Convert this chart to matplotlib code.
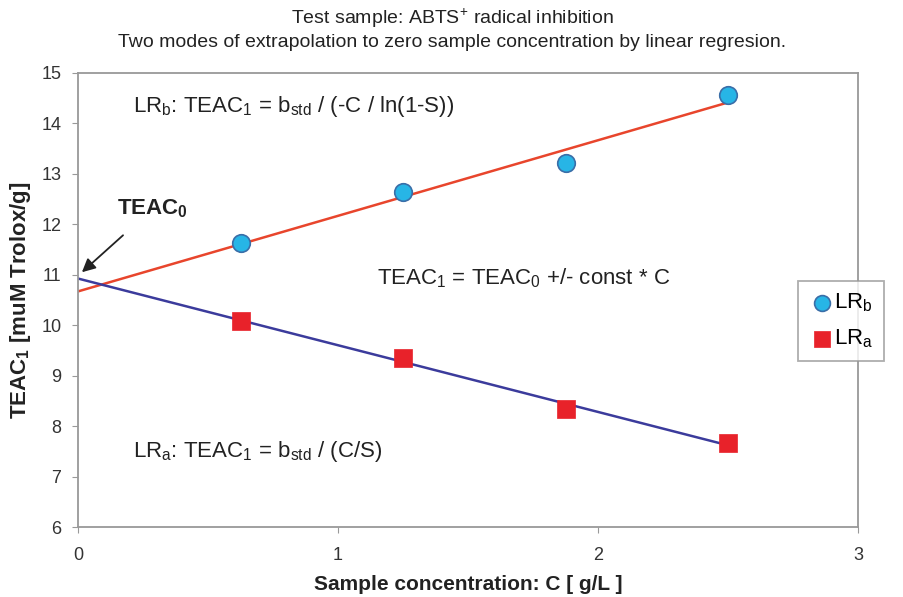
import numpy as np
import matplotlib
matplotlib.use("Agg")
import matplotlib.pyplot as plt

plt.rcParams['font.family'] = ['Liberation Sans', 'DejaVu Sans']
plt.rcParams['mathtext.fontset'] = 'custom'
plt.rcParams['mathtext.rm'] = 'Liberation Sans'
plt.rcParams['mathtext.bf'] = 'Liberation Sans:bold'

# ── data ─────────────────────────────────────────────────────────
conc = [0.625, 1.25, 1.875, 2.5]
teac_lrb = [11.63, 12.64, 13.21, 14.56]
teac_lra = [10.08, 9.35, 8.35, 7.66]

# linear regression, extrapolated to zero concentration
fit_b = np.polyfit(conc, teac_lrb, 1)
fit_a = np.polyfit(conc, teac_lra, 1)
x_fit = np.array([0.0, max(conc)])

fig = plt.figure(figsize=(9.04, 5.97), dpi=100)
ax = fig.add_axes([0.0863, 0.117, 0.863, 0.761])

ax.plot(x_fit, np.polyval(fit_b, x_fit), color='#e8452c', lw=1.8, zorder=2)
ax.plot(x_fit, np.polyval(fit_a, x_fit), color='#3b3b9c', lw=1.8, zorder=2)
ax.scatter(conc, teac_lrb, s=160, marker='o', facecolor='#27b5e6',
           edgecolor='#3a6ea8', lw=1.2, zorder=3, label='LR$_\\mathregular{b}$')
ax.scatter(conc, teac_lra, s=160, marker='s', facecolor='#e8222a',
           edgecolor='#e8222a', lw=0.5, zorder=3, label='LR$_\\mathregular{a}$')

ax.set_xlim(0, 3)
ax.set_ylim(6, 15)
ax.set_xticks([0, 1, 2, 3])
ax.set_yticks(range(6, 16))
for s in ax.spines.values():
    s.set_color('#999999')
    s.set_linewidth(1.3)
ax.tick_params(colors='#999999', labelcolor='#333333', labelsize=13,
               length=4, direction='out')
ax.tick_params(axis='x', pad=10)
ax.tick_params(axis='y', pad=8)

ax.set_xlabel('Sample concentration: C [ g/L ]', fontsize=15,
              fontweight='bold', color='#222222', labelpad=8)
ax.set_ylabel('TEAC$_\\mathbf{1}$ [muM Trolox/g]', fontsize=16,
              fontweight='bold', color='#222222', labelpad=6)

fig.suptitle('Test sample: ABTS$^{+}$ radical inhibition\n'
             'Two modes of extrapolation to zero sample concentration by linear regresion.',
             fontsize=14, color='#222222', y=0.99, linespacing=1.3)

ax.text(0.21, 14.33, 'LR$_\\mathregular{b}$: TEAC$_\\mathregular{1}$ = b$_\\mathregular{std}$ / (-C / ln(1-S))',
        fontsize=16, color='#222222', va='center')
ax.text(0.21, 7.5, 'LR$_\\mathregular{a}$: TEAC$_\\mathregular{1}$ = b$_\\mathregular{std}$ / (C/S)',
        fontsize=16, color='#222222', va='center')
ax.text(1.15, 10.93, 'TEAC$_\\mathregular{1}$ = TEAC$_\\mathregular{0}$ +/- const * C',
        fontsize=16, color='#222222', va='center')
ax.annotate('TEAC$_\\mathbf{0}$', xy=(0.015, 11.05), xytext=(0.285, 12.3),
            fontsize=16, fontweight='bold', color='#222222', ha='center', va='center',
            arrowprops=dict(arrowstyle='-|>', color='#222222', lw=1.3,
                            shrinkA=13, shrinkB=0, mutation_scale=20))

leg = fig.legend(loc='upper left', bbox_to_anchor=(0.883, 0.53), fontsize=16,
                 frameon=True, fancybox=False, edgecolor='#999999',
                 borderaxespad=0, handletextpad=0.0, handlelength=1.1,
                 borderpad=0.5, labelspacing=0.6, markerscale=0.9)
leg.get_frame().set_linewidth(1.3)
leg.set_bbox_to_anchor((0.883, 0.53, 0.2, 0), transform=fig.transFigure)
leg._legend_box.align = 'left'

fig.savefig('out.png', dpi=100)
